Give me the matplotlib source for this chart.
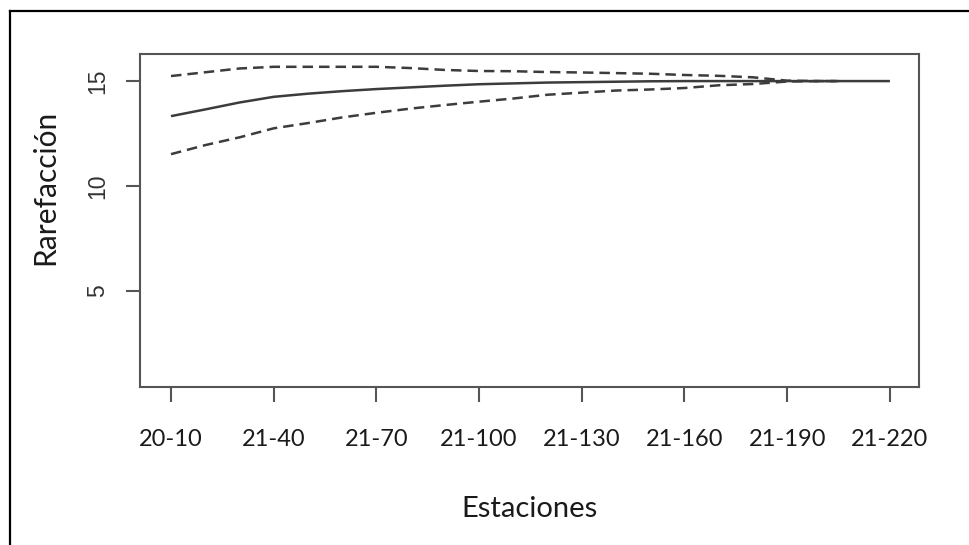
import matplotlib
matplotlib.use("Agg")
import matplotlib.pyplot as plt
from matplotlib.lines import Line2D

# Sample sizes (stations accumulated) and rarefaction values
mean_x = [10, 20, 30, 40, 50, 60, 70, 80, 90, 100, 110, 120, 130, 140,
          150, 160, 170, 180, 190, 200, 210, 220]
mean_y = [13.33, 13.65, 13.98, 14.25, 14.40, 14.52, 14.62, 14.70, 14.78,
          14.85, 14.89, 14.93, 14.95, 14.97, 14.99, 15.0, 15.0, 15.0, 15.0,
          15.0, 15.0, 15.0]

ci_x = [10, 20, 30, 40, 50, 60, 70, 80, 90, 100, 110, 120, 130, 140,
        150, 160, 170, 180, 190, 200, 205]
upper_y = [15.24, 15.42, 15.60, 15.68, 15.68, 15.68, 15.68, 15.62, 15.53,
           15.48, 15.47, 15.43, 15.41, 15.38, 15.35, 15.29, 15.25, 15.18,
           15.02, 15.0, 15.0]
lower_y = [11.52, 11.95, 12.32, 12.75, 13.00, 13.27, 13.49, 13.69, 13.86,
           14.02, 14.17, 14.35, 14.45, 14.55, 14.60, 14.67, 14.80, 14.86,
           14.98, 15.0, 15.0]

tick_pos = [10, 40, 70, 100, 130, 160, 190, 220]
tick_labels = ["20-10", "21-40", "21-70", "21-100", "21-130", "21-160",
               "21-190", "21-220"]
y_ticks = [5, 10, 15]

fig = plt.figure(figsize=(9.7, 5.45), dpi=100)
ax = fig.add_axes([140 / 970, 1 - 387 / 545, 779 / 970, 333 / 545])

line_col = "#3c3c3c"
ax.plot(mean_x, mean_y, color=line_col, lw=1.8, solid_capstyle="butt")
ax.plot(ci_x, upper_y, color=line_col, lw=1.8, dashes=(4.2, 2.4))
ax.plot(ci_x, lower_y, color=line_col, lw=1.8, dashes=(4.2, 2.4))

ax.set_xlim(0.95, 228.5)
ax.set_ylim(0.43, 16.29)

# R-style box and ticks
for spine in ax.spines.values():
    spine.set_color("#555555")
    spine.set_linewidth(1.5)

ax.set_xticks(tick_pos)
ax.set_xticklabels(tick_labels, family="Lato", fontsize=17, color="#1a1a1a")
ax.set_yticks(y_ticks)
ax.set_yticklabels([str(v) for v in y_ticks], family="Liberation Sans",
                   fontsize=16.5, color="#333333", rotation=90, va="center")
ax.tick_params(axis="x", length=11, width=1.5, color="#555555", pad=19)
ax.tick_params(axis="y", length=10, width=1.5, color="#555555", pad=12)

ax.set_xlabel("Estaciones", family="Lato", fontsize=21, color="#1a1a1a",
              va="center")
ax.xaxis.set_label_coords(0.5006, -0.366)
ax.set_ylabel("Rarefacción", family="Lato", fontsize=21.5, color="#1a1a1a",
              va="center", ha="center")
ax.yaxis.set_label_coords(-0.122, 0.60)

# Outer frame (top and left edges only)
fig.add_artist(Line2D([10 / 970, 1.0], [1 - 10.5 / 545, 1 - 10.5 / 545],
                      transform=fig.transFigure, color="black", lw=1.6))
fig.add_artist(Line2D([10 / 970, 10 / 970], [1 - 10.5 / 545, 0.0],
                      transform=fig.transFigure, color="black", lw=1.6))

fig.savefig("out.png", dpi=100)
